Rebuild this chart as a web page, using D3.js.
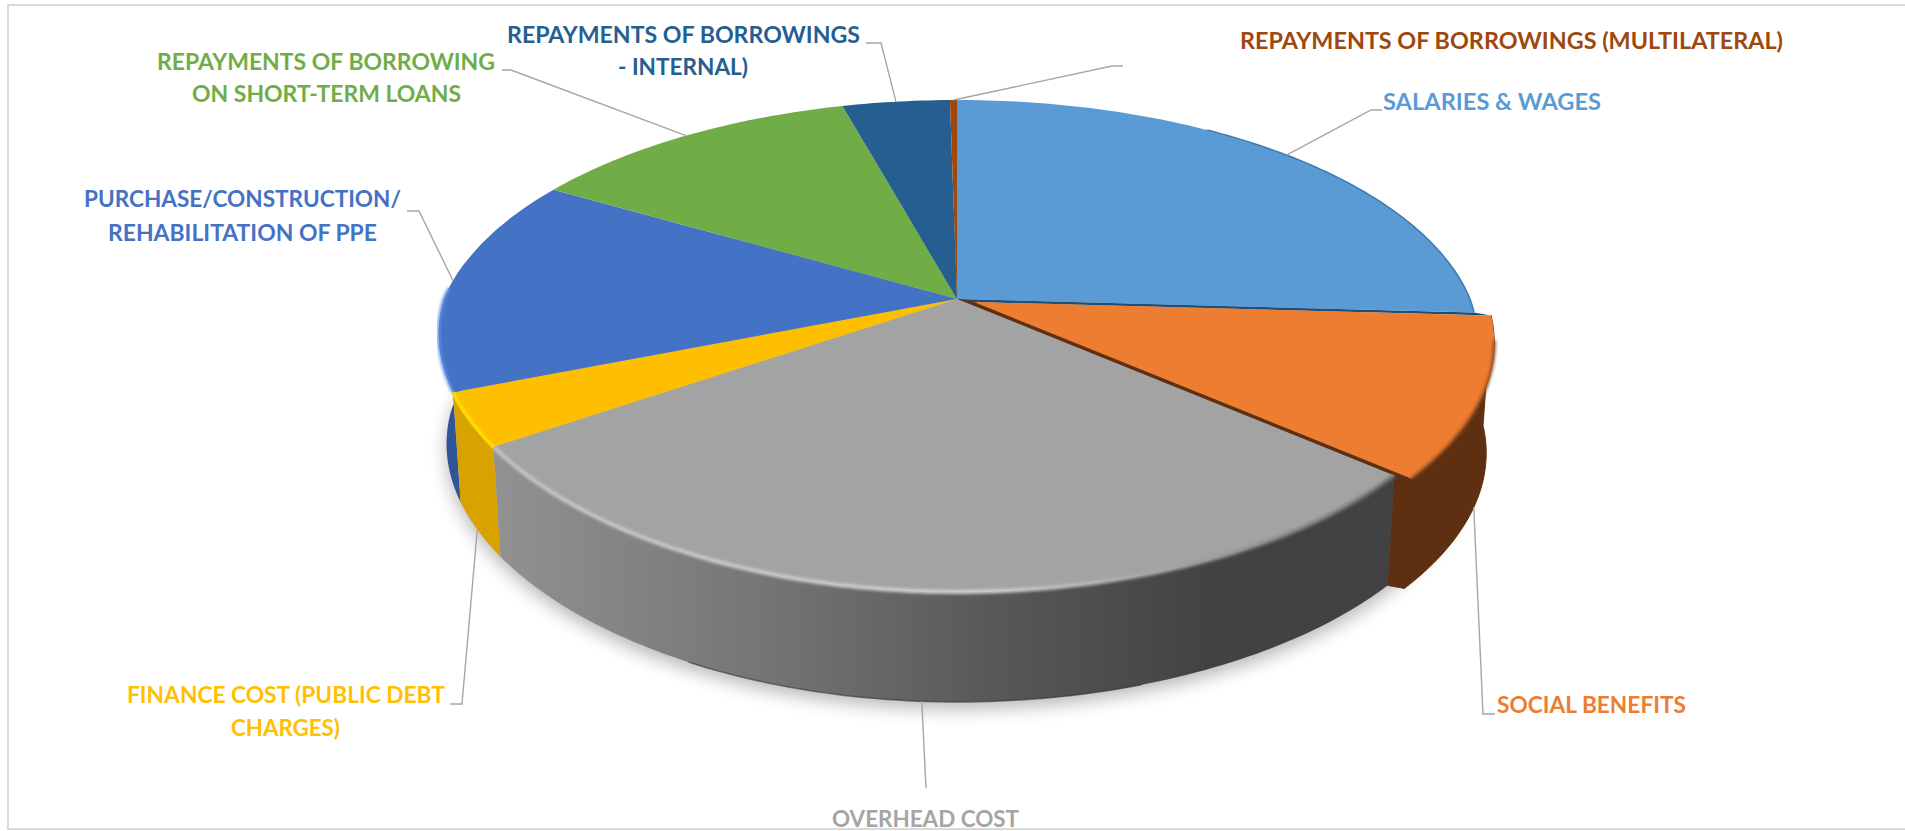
<!DOCTYPE html>
<html>
<head>
<meta charset="utf-8">
<script src="https://cdn.jsdelivr.net/npm/d3@7"></script>
<style>
html,body{margin:0;padding:0;background:#fff;overflow:hidden}
svg{display:block}
text{font-family:Lato,"Open Sans",sans-serif;font-weight:700;font-size:23px}
</style>
</head>
<body>
<svg id="chart" width="1905" height="831"></svg>
<script>
// ---- data (percent of total) ----
const categories = ["Salaries & Wages","Social Benefits","Overhead Cost","Finance Cost (Public Debt Charges)",
  "Purchase/Construction/Rehabilitation of PPE","Repayments of Borrowing on Short-Term Loans",
  "Repayments of Borrowings - Internal)","Repayments of Borrowings (Multilateral)"];
const values = [25.9, 10.4, 29.3, 3.45, 14.4, 12.3, 4.0, 0.26];
const colors = ["#5b9bd5","#ed7d31","#a3a3a3","#fdbf00","#4472c4","#70ad47","#255e91","#9e480e"];
const wallColors = ["#1f4e79","#5e2f10","url(#wallGrey)","#d8a300","#2f5597","#4c7a30","#193f63","#6b3009"];
const labelLines = [["SALARIES & WAGES"],["SOCIAL BENEFITS"],["OVERHEAD COST"],["FINANCE COST (PUBLIC DEBT","CHARGES)"],
  ["PURCHASE/CONSTRUCTION/","REHABILITATION OF PPE"],["REPAYMENTS OF BORROWING","ON SHORT-TERM LOANS"],
  ["REPAYMENTS OF BORROWINGS","- INTERNAL)"],["REPAYMENTS OF BORROWINGS (MULTILATERAL)"]];
const labelColors = ["#5b9bd5","#ed7d31","#a5a5a5","#ffc000","#4472c4","#70ad47","#255e91","#9e480e"];

// ---- layout: label boxes (x0,x1,baseline per line) and leader elbows ----
const labelBoxes = [
  [[1383,1601,110]],
  [[1497,1686,713]],
  [[832,1019,827]],
  [[127,445,703],[231,340,736]],
  [[84,401,207],[108,377,241]],
  [[157,495,70],[192,461,102]],
  [[507,860,43],[618,748,75]],
  [[1240,1783,49]]
];
const leaderElbows = [
  [[1371,110],[1382,110]],
  [[1483,714],[1495,714]],
  [[926,788]],
  [[462,704],[450,704]],
  [[419,211],[407,211]],
  [[511,70],[502,70]],
  [[881,43],[866,43]],
  [[1112,66],[1123,66]]
];

// ---- perspective pie model ----
const cx = 957, cy = 299, rx = 513, ry = 237, persp = 0.191, depth = 110, baseScale = 0.985;
const pinchLeft = 0.05, pinchRight = 0.025;
const explode = [[0,0],[17,3],[0,0],[0,0],[0,0],[0,0],[0,0],[0,0]];

function rim(a, off){
  const u = Math.sin(a), v = Math.cos(a), w = 1 + persp * v;
  const pinch = v < 0 ? 1 + (u < 0 ? pinchLeft : pinchRight) * v : 1;
  return [cx + rx * u * pinch / w + off[0], cy - ry * v / w + off[1]];
}
function base(a, off){
  const p = rim(a, off);
  return [cx + (p[0] - cx) * baseScale, p[1] + depth];
}
function samples(a0, a1, fn, off){
  const n = Math.max(2, Math.ceil(Math.abs(a1 - a0) / (Math.PI / 180)));
  return d3.range(n + 1).map(i => fn(a0 + (a1 - a0) * i / n, off));
}
const line = d3.line();
const closed = pts => line(pts) + "Z";

const slices = d3.pie().sort(null).value(d => d)(values);
const svg = d3.select("#chart");
const defs = svg.append("defs");

const blur = (id, s) => defs.append("filter").attr("id", id)
  .attr("x","-10%").attr("y","-20%").attr("width","120%").attr("height","140%")
  .append("feGaussianBlur").attr("stdDeviation", s);
blur("soft", 9); blur("bevel", 1.6);

const addGrad = (id, stops, x1, x2) => defs.append("linearGradient").attr("id", id)
  .attr("gradientUnits","userSpaceOnUse").attr("x1",x1).attr("x2",x2).attr("y1",0).attr("y2",0)
  .selectAll("stop").data(stops).join("stop").attr("offset",d=>d[0]).attr("stop-color",d=>d[1]);
addGrad("wallGrey", [[0,"#919191"],[0.35,"#757575"],[0.68,"#565656"],[0.95,"#424242"],[1,"#424242"]], 500, 1250);
addGrad("bevelGrey", [[0,"#c4c4c4"],[0.55,"#d2d2d2"],[0.72,"#a8a8a8"],[1,"#6e6e6e"]], 496, 1397);

// frame
svg.append("rect").attr("x",8).attr("y",5).attr("width",1905).attr("height",824)
  .attr("fill","#fff").attr("stroke","#d9d9d9").attr("stroke-width",2);

// ground shadow
const shadowPts = samples(0, 2*Math.PI, base, [0,0]).map(p => [p[0], p[1] + 7]);
svg.append("path").attr("d", closed(shadowPts)).attr("fill","#000").attr("opacity",0.28).attr("filter","url(#soft)");

// gaps exposed by the pulled-out slice (drawn first so the walls overlap their seams)
const ob = slices[1];
const apex = [cx + explode[1][0], cy + explode[1][1]];
svg.append("path").attr("d", closed([[cx,cy], rim(ob.startAngle,[0,0]), rim(ob.startAngle,explode[1]), apex]))
  .attr("fill", wallColors[0]);
svg.append("path").attr("d", closed([[cx,cy], rim(ob.endAngle,[0,0]), base(ob.endAngle,[0,0]), base(ob.endAngle,explode[1]), rim(ob.endAngle,explode[1]), apex]))
  .attr("fill", wallColors[1]).attr("stroke", wallColors[1]).attr("stroke-width",1);

// side walls: only the slices facing the viewer, back to front
const wallOrder = [4,3,1,2];
const walls = svg.append("g");
wallOrder.forEach(i => {
  const s = slices[i], off = explode[i];
  const a0 = s.startAngle, a1 = i === 4 ? Math.min(s.endAngle, 1.55 * Math.PI) : s.endAngle;
  const pts = samples(a0, a1, rim, off).concat(samples(a1, a0, base, off));
  const wall = walls.append("path").attr("d", closed(pts)).attr("fill", wallColors[i]);
  if (i === 1) wall.attr("stroke", wallColors[i]).attr("stroke-width",1);
});
// thin dark foot of the grey wall
svg.append("path").attr("d", line(samples(slices[2].startAngle + 0.55, slices[2].endAngle - 0.5, base, [0,0])))
  .attr("fill","none").attr("stroke","#333").attr("stroke-width",1.5).attr("opacity",0.6);

// top faces
const tops = svg.append("g");
slices.forEach((s,i) => {
  const off = explode[i];
  const pts = [[cx+off[0], cy+off[1]]].concat(samples(s.startAngle, s.endAngle, rim, off));
  tops.append("path").attr("d", closed(pts)).attr("fill", colors[i]);
});

// bevels on the rim
const bevelLine = (i, a0, a1, stroke, w, blurred) => {
  const p = svg.append("path").attr("d", line(samples(a0, a1, rim, explode[i])))
    .attr("fill","none").attr("stroke",stroke).attr("stroke-width",w);
  if (blurred) p.attr("filter","url(#bevel)");
};
bevelLine(2, slices[2].startAngle, slices[2].endAngle, "url(#bevelGrey)", 4, true);
bevelLine(3, slices[3].startAngle, slices[3].endAngle, "#ffd800", 4, false);
bevelLine(4, slices[4].startAngle, slices[4].startAngle + 0.42, "#5b90e6", 3, true);
bevelLine(1, slices[1].startAngle + 0.1, slices[1].endAngle, "#9a5020", 3, true);
bevelLine(0, slices[0].startAngle + 0.6, slices[0].endAngle, "#3f78ad", 1.5, false);

// leader lines: anchored at each slice's mid angle
const leaders = svg.append("g").attr("fill","none").attr("stroke","#a6a6a6").attr("stroke-width",1.4);
slices.forEach((s,i) => {
  const mid = (s.startAngle + s.endAngle) / 2;
  const onWall = i >= 1 && i <= 3;
  const anchor = onWall ? base(mid, explode[i]) : rim(mid, explode[i]);
  leaders.append("path").attr("d", line([anchor].concat(leaderElbows[i])));
});

// labels
const labels = svg.append("g");
labelLines.forEach((rows,i) => rows.forEach((t,j) => {
  const b = labelBoxes[i][j];
  labels.append("text").attr("x",b[0]).attr("y",b[2]).attr("fill",labelColors[i])
    .attr("textLength",b[1]-b[0]).attr("lengthAdjust","spacingAndGlyphs").text(t);
}));
</script>
</body>
</html>
